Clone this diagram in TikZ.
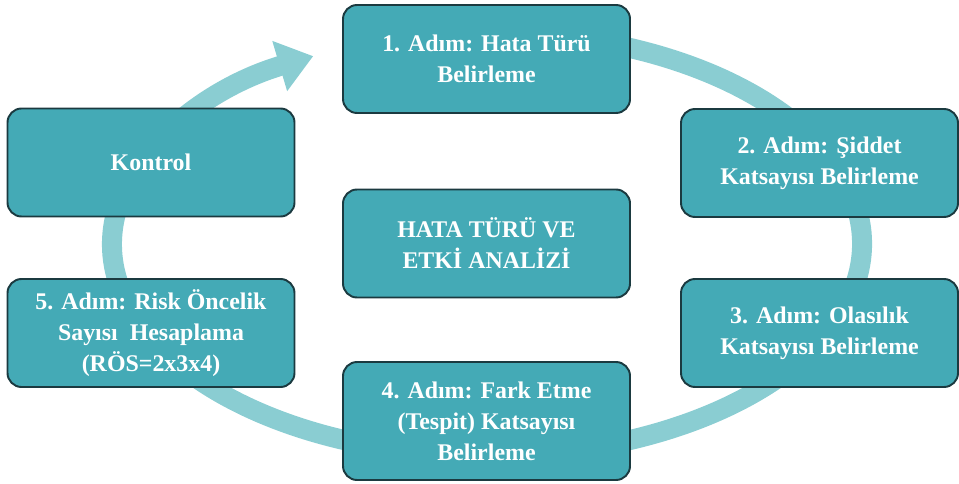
\documentclass[tikz,border=0pt]{standalone}
\usepackage{fontspec}
\setmainfont{Liberation Serif}
\usetikzlibrary{arrows.meta, calc}
\definecolor{boxteal}{HTML}{44AAB6}
\definecolor{boxline}{HTML}{1B3A40}
\definecolor{ringteal}{HTML}{8ACDD2}
\tikzset{
    passo/.style={draw=boxline, line width=1.1pt, fill=boxteal, rounded corners=8pt,
        minimum width=5.74cm, minimum height=2.16cm, align=center, text=white,
        font=\fontsize{13.6}{17.6}\selectfont\bfseries, inner sep=2pt}
}
\begin{document}
\begin{tikzpicture}[>=Triangle]
    \useasboundingbox (0,0) rectangle (19.18,-9.68);

    % Centro dell'anello
    \coordinate (ciclo) at (9.74,-4.88);

    % Anello con freccia
    \draw[ringteal, line width=0.4cm, -{Triangle[width=1cm,length=0.7cm]}]
        ($(ciclo)+(80:7.5cm and 4.24cm)$) arc[start angle=80, end angle=-242.4, x radius=7.5cm, y radius=4.24cm];

    % Nodi (passi)
    \node[passo] (passo1) at (9.73,-1.18) {1. Adım: Hata Türü\\Belirleme};
    \node[passo] (kontrol) at (3.02,-3.25) {Kontrol};
    \node[passo, minimum width=5.54cm] (passo2) at (16.39,-3.26) {2. Adım: Şiddet\\Katsayısı Belirleme};
    \node[passo] (analisi) at (9.73,-4.87) {HATA TÜRÜ VE\\ETKİ ANALİZİ};
    \node[passo, minimum width=5.54cm] (passo3) at (16.39,-6.66) {3. Adım: Olasılık\\Katsayısı Belirleme};
    \node[passo] (passo5) at (3.02,-6.66) {5. Adım: Risk Öncelik\\Sayısı~ Hesaplama\\(RÖS=2x3x4)};
    \node[passo, minimum height=2.36cm] (passo4) at (9.73,-8.42) {4. Adım: Fark Etme\\(Tespit) Katsayısı\\Belirleme};
\end{tikzpicture}
\end{document}
